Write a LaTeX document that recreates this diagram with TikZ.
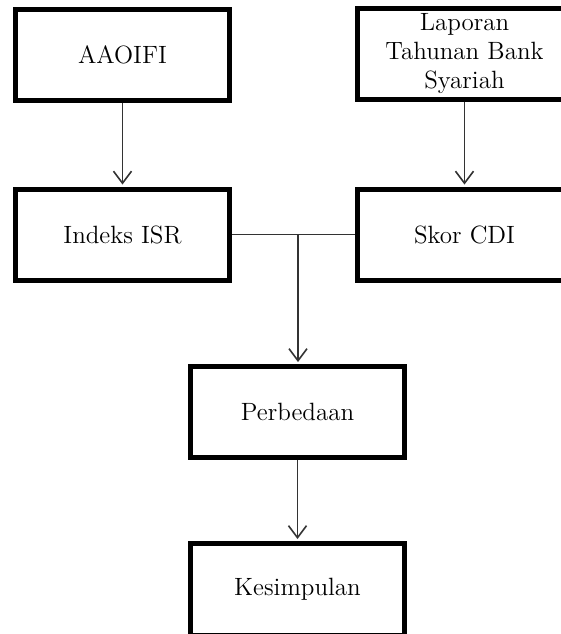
\documentclass[tikz,border=0pt]{standalone}
\usetikzlibrary{arrows.meta}
\begin{document}
\begin{tikzpicture}[x=0.5pt, y=-0.5pt, every node/.style = {shape=rectangle, draw, line width=2.5pt, align=center,
                        inner sep=1pt, minimum width=107pt, minimum height=45.5pt,
                        font=\fontsize{12.5}{14.5}\selectfont},
                    flow/.style = {draw=black!80, line width=0.8pt, shorten >=1pt,
                        -{Straight Barb[length=6pt, width=9pt]}},
                    joint/.style = {draw=black!80, line width=0.8pt}]
        \useasboundingbox (0,0) rectangle (561,634);
        \clip (0,0) rectangle (561,634);
        \node (aaoifi) at (122.5,55) {AAOIFI};
        \node (laporan) at (464.5,54) {Laporan\\Tahunan Bank\\Syariah};
        \node (indeks) at (122.5,234.5) {Indeks ISR};
        \node (skor) at (464.5,234.5) {Skor CDI};
        \node (perbedaan) at (297.5,412) {Perbedaan};
        \node (kesimpulan) at (297.5,589.5) [minimum height=46pt] {Kesimpulan};
        \coordinate (split) at (298,234.5);
        \draw[flow] (aaoifi) -- (indeks);
        \draw[flow] (laporan) -- (skor);
        \draw[joint] (indeks) -- (skor);
        \draw[flow] (split) -- (split |- perbedaan.north);
        \draw[flow] (perbedaan) -- (kesimpulan);
    \end{tikzpicture}
\end{document}
